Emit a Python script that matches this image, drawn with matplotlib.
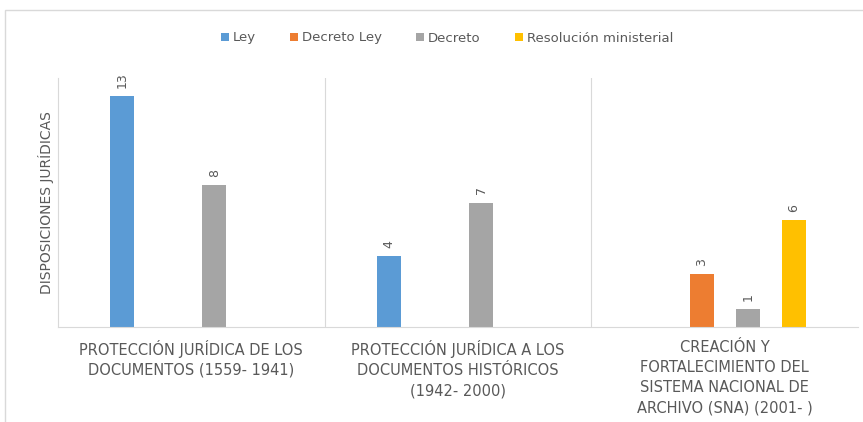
import matplotlib
matplotlib.use("Agg")
import matplotlib.pyplot as plt
import numpy as np
from matplotlib.patches import Rectangle

categories = [
    "PROTECCIÓN JURÍDICA DE LOS\nDOCUMENTOS (1559- 1941)",
    "PROTECCIÓN JURÍDICA A LOS\nDOCUMENTOS HISTÓRICOS\n(1942- 2000)",
    "CREACIÓN Y\nFORTALECIMIENTO DEL\nSISTEMA NACIONAL DE\nARCHIVO (SNA) (2001- )",
]
series_names = ["Ley", "Decreto Ley", "Decreto", "Resolución ministerial"]
ley = [13, 4, 0]
decreto_ley = [0, 0, 3]
decreto = [8, 7, 1]
resolucion = [0, 0, 6]
y_label = "DISPOSICIONES JURÍDICAS"

colors = ["#5B9BD5", "#ED7D31", "#A5A5A5", "#FFC000"]
series = [ley, decreto_ley, decreto, resolucion]

fig = plt.figure(figsize=(8.63, 4.22), dpi=100)
ax = fig.add_axes([58/863, 1-327/422, 800/863, (327-78)/422])

x = np.arange(len(categories))
step = 46/266
width = 24/266
offsets = (np.arange(4) - 1.5) * step
text_color = "#595959"
for i, (name, vals, c) in enumerate(zip(series_names, series, colors)):
    bars = ax.bar(x + offsets[i], vals, width=width, color=c, label=name)
    for b, v in zip(bars, vals):
        if v:
            ax.text(b.get_x() + b.get_width()/2, v + 0.45, str(v), rotation=90,
                    ha="center", va="bottom", fontsize=9, color=text_color)

ax.set_xlim(-0.5, 2.5)
ax.set_ylim(0, 14)
ax.set_yticks([])
ax.set_xticks(x)
ax.set_xticklabels(categories, fontsize=10.5, color=text_color, linespacing=1.45)
ax.tick_params(axis="x", length=0, pad=9)
for s in ["top", "right"]:
    ax.spines[s].set_visible(False)
ax.spines["left"].set_color("#D9D9D9")
ax.spines["bottom"].set_color("#D9D9D9")
for xv in [0.5, 1.5]:
    ax.axvline(xv, color="#D9D9D9", lw=0.8)
ax.set_ylabel(y_label, fontsize=10, color=text_color, labelpad=3)

fig.legend(loc="center", bbox_to_anchor=(0.518, 1-38/422), ncol=4, frameon=False,
           fontsize=9.5, handlelength=0.6, handleheight=0.6, handletextpad=0.3,
           columnspacing=2.6, labelcolor=text_color)

fig.patches.append(Rectangle((5/863, -0.1), 1.2, 1-10/422+0.1, transform=fig.transFigure,
                             fill=False, edgecolor="#D9D9D9", lw=1))

fig.savefig("out.png", dpi=100)
